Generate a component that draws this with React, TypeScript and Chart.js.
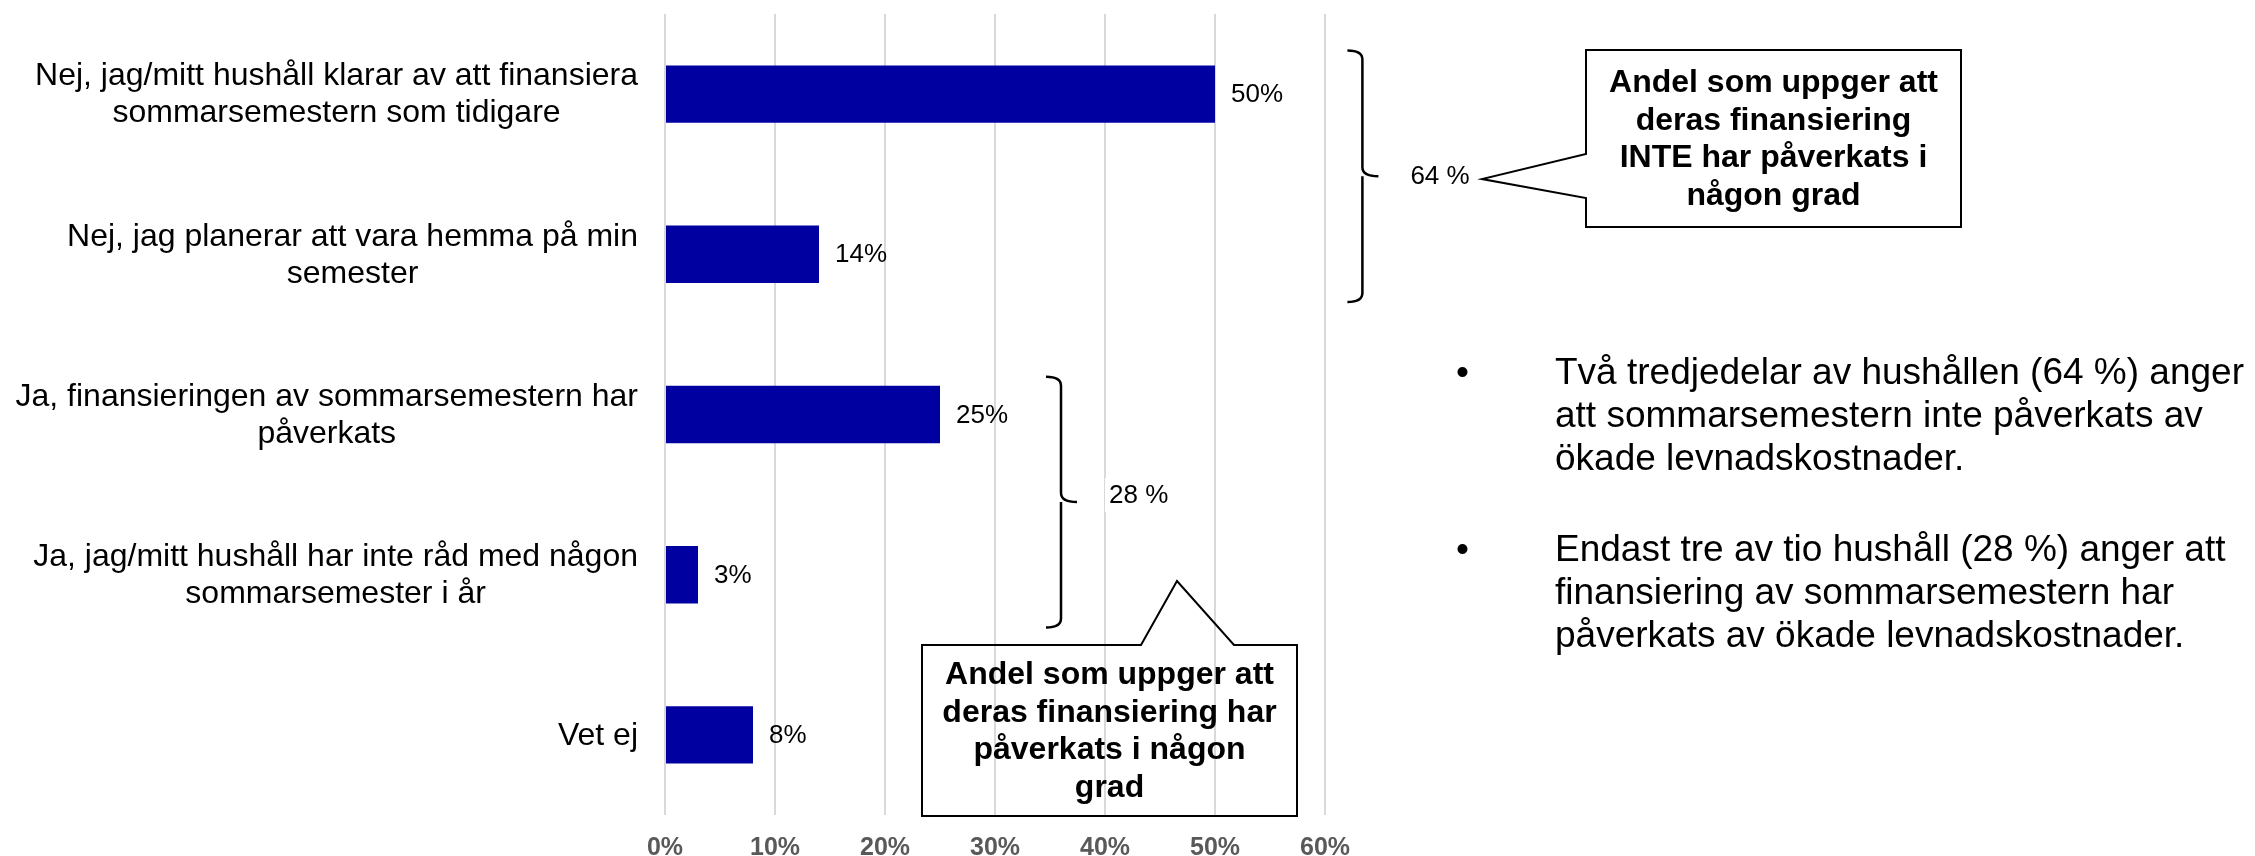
import React, { useEffect, useRef } from "react";
import { Chart, registerables } from "chart.js";

Chart.register(...registerables);

// ---------- data ----------
const categories: string[][] = [
  ["Nej, jag/mitt hushåll klarar av att finansiera", "sommarsemestern som tidigare"],
  ["Nej, jag planerar att vara hemma på min", "semester"],
  ["Ja, finansieringen av sommarsemestern har", "påverkats"],
  ["Ja, jag/mitt hushåll har inte råd med någon", "sommarsemester i år"],
  ["Vet ej"],
];
const values: number[] = [50, 14, 25, 3, 8];
const xTickValues: number[] = [0, 10, 20, 30, 40, 50, 60];

const groupLabels: string[] = ["64 %", "28 %"];
const groupRanges: number[][] = [
  [0, 1],
  [2, 3],
];

const callout1Lines: string[] = [
  "Andel som uppger att",
  "deras finansiering",
  "INTE har påverkats i",
  "någon grad",
];
const callout2Lines: string[] = [
  "Andel som uppger att",
  "deras finansiering har",
  "påverkats i någon",
  "grad",
];
const bullet1Lines: string[] = [
  "Två tredjedelar av hushållen (64 %) anger",
  "att sommarsemestern inte påverkats av",
  "ökade levnadskostnader.",
];
const bullet2Lines: string[] = [
  "Endast tre av tio hushåll (28 %) anger att",
  "finansiering av sommarsemestern har",
  "påverkats av ökade levnadskostnader.",
];

const FONT = "'Liberation Sans', Arial, Helvetica, sans-serif";
const BAR_COLOR = "#0000A0";

const overlayPlugin = {
  id: "overlay",
  afterDraw(chart: any) {
    const ctx: CanvasRenderingContext2D = chart.ctx;
    const xs = chart.scales.x;
    const ys = chart.scales.y;
    const area = chart.chartArea;
    ctx.save();

    // category labels: block right-aligned, lines centered
    ctx.font = `32px ${FONT}`;
    ctx.fillStyle = "#000";
    ctx.textBaseline = "middle";
    ctx.textAlign = "center";
    const labelRight = area.left - 27;
    const lh = 37;
    categories.forEach((lines, i) => {
      const cy = ys.getPixelForValue(i);
      const w = Math.max(...lines.map((l) => ctx.measureText(l).width));
      const cx = labelRight - w / 2;
      const y0 = cy - ((lines.length - 1) * lh) / 2;
      lines.forEach((l, j) => ctx.fillText(l, cx, y0 + j * lh + 1));
    });

    // data labels
    ctx.font = `26px ${FONT}`;
    ctx.textAlign = "left";
    const meta = chart.getDatasetMeta(0);
    meta.data.forEach((el: any, i: number) => {
      ctx.fillText(`${values[i]}%`, el.x + 16, el.y + 1);
    });

    // brackets
    const bracketX = [xs.getPixelForValue(63.4), xs.getPixelForValue(36)];
    const extraTop = [15, 9];
    const extraBottom = [19, 24];
    const labelDy = [1, -6];
    groupRanges.forEach((rg, g) => {
      const a = meta.data[rg[0]];
      const b = meta.data[rg[1]];
      const top = a.y - a.height / 2 - extraTop[g];
      const bottom = b.y + b.height / 2 + extraBottom[g];
      const mid = (top + bottom) / 2;
      const x = bracketX[g];
      const r = 9;
      ctx.strokeStyle = "#000";
      ctx.lineWidth = 2.5;
      ctx.beginPath();
      ctx.moveTo(x - 15, top);
      ctx.quadraticCurveTo(x, top, x, top + r);
      ctx.lineTo(x, mid - r);
      ctx.quadraticCurveTo(x, mid, x + 16, mid);
      ctx.moveTo(x, mid);
      ctx.quadraticCurveTo(x, mid, x, mid + r);
      ctx.lineTo(x, bottom - r);
      ctx.quadraticCurveTo(x, bottom, x - 15, bottom);
      ctx.stroke();

      ctx.font = `26px ${FONT}`;
      const tx = x + 48;
      const ty = mid + labelDy[g];
      const tw = ctx.measureText(groupLabels[g]).width;
      ctx.fillStyle = "#fff";
      ctx.fillRect(tx - 4, ty - 18, tw + 8, 34);
      ctx.fillStyle = "#000";
      ctx.textAlign = "left";
      ctx.fillText(groupLabels[g], tx, ty);
    });

    // callouts
    const drawCallout = (pts: number[][], lines: string[], cx: number, cy: number) => {
      ctx.beginPath();
      ctx.moveTo(pts[0][0], pts[0][1]);
      for (let k = 1; k < pts.length; k++) ctx.lineTo(pts[k][0], pts[k][1]);
      ctx.closePath();
      ctx.strokeStyle = "#000";
      ctx.lineWidth = 2;
      ctx.stroke();
      ctx.fillStyle = "#000";
      ctx.font = `bold 32px ${FONT}`;
      ctx.textAlign = "center";
      ctx.textBaseline = "middle";
      const l2 = 37.5;
      const y0 = cy - ((lines.length - 1) * l2) / 2;
      lines.forEach((l, j) => ctx.fillText(l, cx, y0 + j * l2 + 1));
    };
    drawCallout(
      [
        [1586, 50],
        [1961, 50],
        [1961, 227],
        [1586, 227],
        [1586, 198],
        [1482, 179],
        [1586, 154],
      ],
      callout1Lines,
      (1586 + 1961) / 2,
      (50 + 227) / 2
    );
    drawCallout(
      [
        [922, 645],
        [1141, 645],
        [1177, 581],
        [1234, 645],
        [1297, 645],
        [1297, 816],
        [922, 816],
      ],
      callout2Lines,
      (922 + 1297) / 2,
      (645 + 816) / 2
    );

    // bullets
    ctx.font = `37px ${FONT}`;
    ctx.textAlign = "left";
    ctx.textBaseline = "middle";
    ctx.fillStyle = "#000";
    const drawBullet = (lines: string[], y0: number) => {
      ctx.fillText("•", 1456, y0);
      lines.forEach((l, j) => ctx.fillText(l, 1555, y0 + j * 43));
    };
    drawBullet(bullet1Lines, 374);
    drawBullet(bullet2Lines, 551);

    ctx.restore();
  },
};

export default function App() {
  const ref = useRef<HTMLCanvasElement | null>(null);
  useEffect(() => {
    if (!ref.current) return;
    const chart = new Chart(ref.current, {
      type: "bar",
      data: {
        labels: categories.map((c) => c.join(" ")),
        datasets: [
          {
            data: values,
            backgroundColor: BAR_COLOR,
            borderWidth: 0,
            barPercentage: 0.358,
            categoryPercentage: 1,
          },
        ],
      },
      options: {
        indexAxis: "y",
        responsive: false,
        animation: false,
        layout: { padding: { left: 665, right: 930, top: 14, bottom: 0 } },
        plugins: {
          legend: { display: false },
          tooltip: { enabled: false },
        },
        scales: {
          x: {
            min: xTickValues[0],
            max: xTickValues[xTickValues.length - 1],
            afterBuildTicks: (axis: any) => {
              axis.ticks = xTickValues.map((v) => ({ value: v }));
            },
            afterFit: (axis: any) => {
              axis.height = 41;
            },
            grid: { color: "#D9D9D9", lineWidth: 2, drawTicks: false },
            border: { display: false },
            ticks: {
              padding: 18,
              color: "#595959",
              font: { family: FONT, size: 25, weight: "bold" },
              callback: (v: any) => `${v}%`,
            },
          },
          y: {
            display: false,
          },
        },
      },
      plugins: [overlayPlugin],
    } as any);
    return () => chart.destroy();
  }, []);
  return (
    <div style={{ position: "fixed", left: 0, top: 0, width: 2255, height: 856, background: "#fff" }}>
      <canvas ref={ref} width={2255} height={856} style={{ display: "block" }} />
    </div>
  );
}
